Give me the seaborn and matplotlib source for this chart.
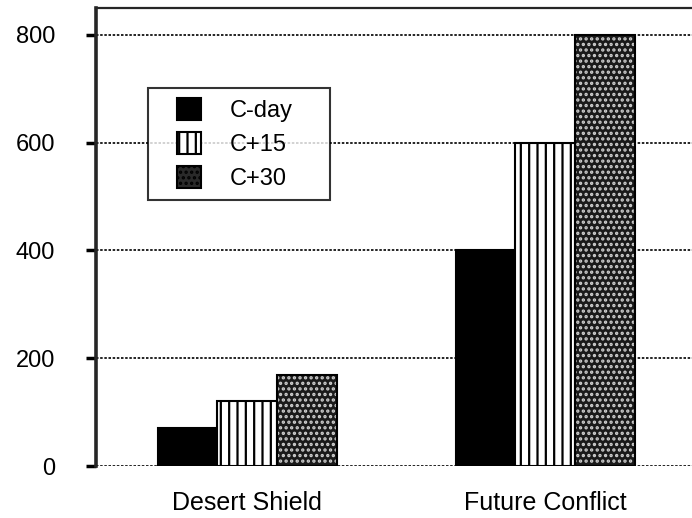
import matplotlib
matplotlib.use("Agg")
import matplotlib.pyplot as plt
import seaborn as sns
import pandas as pd
from matplotlib.patches import Rectangle
from matplotlib.legend_handler import HandlerPatch

categories = ["Desert Shield", "Future Conflict"]
series = ["C-day", "C+15", "C+30"]
c_day = [70, 400]
c_15 = [120, 600]
c_30 = [170, 800]
yticks = [0, 200, 400, 600, 800]

rows = []
for i, cat in enumerate(categories):
    for s, vals in zip(series, [c_day, c_15, c_30]):
        rows.append({"category": cat, "series": s, "value": vals[i]})
df = pd.DataFrame(rows)

sns.set_style("white")
plt.rcParams["font.family"] = ["Liberation Sans", "DejaVu Sans"]
plt.rcParams["text.color"] = "black"
plt.rcParams["xtick.color"] = "black"
plt.rcParams["ytick.color"] = "black"
plt.rcParams["hatch.linewidth"] = 1.6

fig = plt.figure(figsize=(6.92, 5.18), dpi=100)
ax = fig.add_axes([0.139, 0.100, 0.875, 0.885])

sns.barplot(data=df, x="category", y="value", hue="series", order=categories,
            hue_order=series, palette=["black", "white", "#3a3a3a"],
            width=0.6, edgecolor="black", linewidth=1.5, ax=ax, legend=True,
            zorder=3)

n = len(categories)
for k, s in enumerate(series):
    for p in ax.patches[k * n:(k + 1) * n]:
        if s == "C+15":
            p.set_facecolor("white")
            p.set_hatch("||")
            p.set_edgecolor("black")
        elif s == "C+30":
            p.set_facecolor("#1a1a1a")
            p.set_hatch("...")
            p.set_edgecolor("#cfcfcf")
            p.set_linewidth(0)
            ax.add_patch(Rectangle((p.get_x(), p.get_y()), p.get_width(), p.get_height(),
                                   fill=False, edgecolor="black", linewidth=1.5, zorder=4))

ax.set_ylim(0, 850)
ax.set_xlim(-0.507, 1.525)
ax.set_yticks(yticks)
ax.set_yticklabels([str(v) for v in yticks], fontsize=17)
ax.tick_params(axis="x", length=0, labelsize=18, pad=18)
ax.tick_params(axis="y", length=7.5, width=2.5, direction="out", left=True, pad=22)
ax.set_xlabel("")
ax.set_ylabel("")
ax.grid(axis="y", color="black", linestyle=(0, (1.5, 1)), linewidth=1.2, zorder=0)
ax.set_axisbelow(True)
ax.spines["left"].set_linewidth(2.6)
ax.spines["top"].set_linewidth(1.6)
ax.spines["bottom"].set_visible(False)
ax.spines["right"].set_visible(False)

# legend
FS = 17
hs = []
for s in series:
    r = Rectangle((0, 0), 1, 1, edgecolor="black", linewidth=1.5)
    if s == "C-day":
        r.set_facecolor("black")
    elif s == "C+15":
        r.set_facecolor("white"); r.set_hatch("||")
    else:
        r.set_facecolor("#2a2a2a"); r.set_hatch("...")
    hs.append(r)


def make_square(legend, orig_handle, xdescent, ydescent, width, height, fontsize):
    side_w = 1.0 * fontsize
    return Rectangle((width - side_w - xdescent, -ydescent), side_w, height)


leg = ax.legend(hs, series, loc="upper left",
                bbox_to_anchor=(0.0859, 0.8246 - 0.4, 0.3006, 0.4), mode="expand",
                frameon=True, fancybox=False, edgecolor="black", fontsize=FS,
                handlelength=1.8, handleheight=1.06, borderpad=0.42, labelspacing=0.42,
                handletextpad=1.25, borderaxespad=0,
                handler_map={Rectangle: HandlerPatch(patch_func=make_square)})
leg.get_frame().set_linewidth(1.5)

fig.savefig("out.png", dpi=100)
